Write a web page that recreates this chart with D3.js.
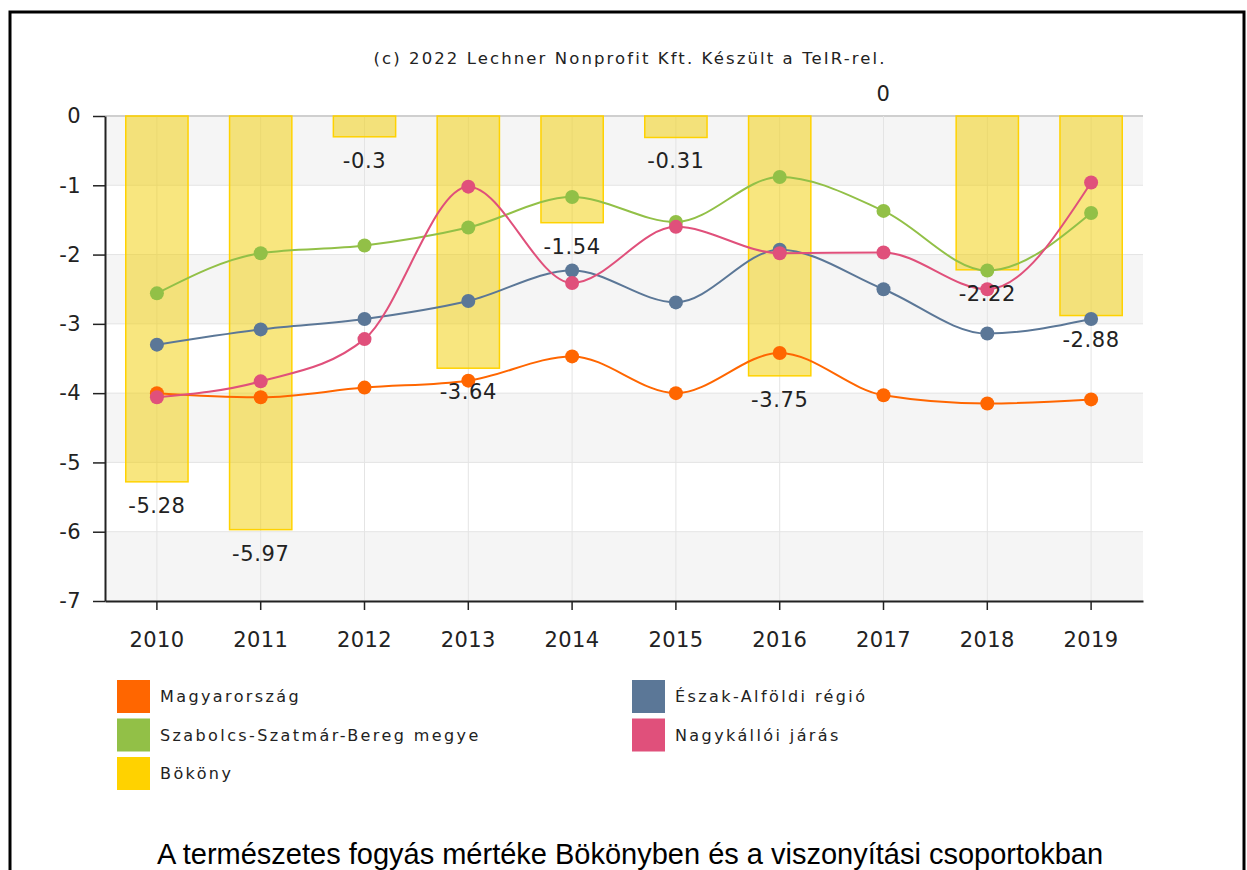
<!DOCTYPE html>
<html>
<head>
<meta charset="utf-8">
<script src="https://cdn.jsdelivr.net/npm/d3@7"></script>
<style>
  body { margin: 0; background: #fff; }
  svg { display: block; }
</style>
</head>
<body>
<div id="chart"></div>
<script>
// years on the x axis
const years = ['2010', '2011', '2012', '2013', '2014', '2015', '2016', '2017', '2018', '2019'];

// line series
const magyarorszag = [-4.0, -4.06, -3.92, -3.82, -3.47, -4.0, -3.42, -4.03, -4.15, -4.09];
const eszakAlfold = [-3.30, -3.08, -2.93, -2.67, -2.23, -2.69, -1.93, -2.50, -3.14, -2.93];
const szabolcs = [-2.56, -1.98, -1.87, -1.61, -1.17, -1.53, -0.88, -1.37, -2.23, -1.40];
const nagykallo = [-4.06, -3.83, -3.22, -1.02, -2.41, -1.60, -1.98, -1.97, -2.50, -0.96];

// bar series
const bokony = [-5.28, -5.97, -0.3, -3.64, -1.54, -0.31, -3.75, 0, -2.22, -2.88];

const yTicks = [0, -1, -2, -3, -4, -5, -6, -7];

const lineSeries = [
  { name: 'Magyarország', color: '#ff6600', values: magyarorszag },
  { name: 'Észak-Alföldi régió', color: '#5b7797', values: eszakAlfold },
  { name: 'Szabolcs-Szatmár-Bereg megye', color: '#92c047', values: szabolcs },
  { name: 'Nagykállói járás', color: '#e0507b', values: nagykallo }
];

const legendItems = [
  { name: 'Magyarország', color: '#ff6600', col: 0, row: 0 },
  { name: 'Észak-Alföldi régió', color: '#5b7797', col: 1, row: 0 },
  { name: 'Szabolcs-Szatmár-Bereg megye', color: '#92c047', col: 0, row: 1 },
  { name: 'Nagykállói járás', color: '#e0507b', col: 1, row: 1 },
  { name: 'Bököny', color: '#ffd200', col: 0, row: 2 }
];

const W = 1247, H = 870;
const plotLeft = 105, plotRight = 1143, plotTop = 116, plotBottom = 601;
const labelFont = '"DejaVu Sans", Verdana, sans-serif';

const svg = d3.select('#chart').append('svg')
  .attr('width', W)
  .attr('height', H);

// outer frame
svg.append('rect')
  .attr('x', 10).attr('y', 12)
  .attr('width', 1234).attr('height', 900)
  .attr('fill', 'none')
  .attr('stroke', '#000')
  .attr('stroke-width', 3);

const x = d3.scaleBand().domain(years).range([plotLeft, plotRight]);
const y = d3.scaleLinear().domain([0, -7]).range([plotTop, plotBottom]);

// alternating background bands
svg.append('g').selectAll('rect')
  .data(yTicks.slice(0, -1).filter((d, i) => i % 2 === 0))
  .enter().append('rect')
  .attr('x', plotLeft)
  .attr('width', plotRight - plotLeft)
  .attr('y', d => y(d))
  .attr('height', d => y(d - 1) - y(d))
  .attr('fill', '#f5f5f5');

// grid
svg.append('g').selectAll('line')
  .data(yTicks)
  .enter().append('line')
  .attr('x1', plotLeft).attr('x2', plotRight)
  .attr('y1', d => y(d)).attr('y2', d => y(d))
  .attr('stroke', d => d === 0 ? '#cfcfcf' : '#e4e4e4')
  .attr('stroke-width', d => d === 0 ? 2 : 1);

svg.append('g').selectAll('line')
  .data(years)
  .enter().append('line')
  .attr('x1', d => x(d) + x.bandwidth() / 2)
  .attr('x2', d => x(d) + x.bandwidth() / 2)
  .attr('y1', plotTop).attr('y2', plotBottom)
  .attr('stroke', '#e4e4e4');

// bars
svg.append('g').selectAll('rect')
  .data(bokony)
  .enter().append('rect')
  .attr('x', (d, i) => x(years[i]) + x.bandwidth() * 0.2)
  .attr('width', x.bandwidth() * 0.6)
  .attr('y', y(0))
  .attr('height', d => y(d) - y(0))
  .attr('fill', 'rgba(242, 206, 0, 0.5)')
  .attr('stroke', '#ffd200')
  .attr('stroke-width', 1.5);

// lines and points
const line = d3.line()
  .x((d, i) => x(years[i]) + x.bandwidth() / 2)
  .y(d => y(d))
  .curve(d3.curveMonotoneX);

lineSeries.forEach(s => {
  const g = svg.append('g');
  g.append('path')
    .datum(s.values)
    .attr('d', line)
    .attr('fill', 'none')
    .attr('stroke', s.color)
    .attr('stroke-width', 2);
  g.selectAll('circle')
    .data(s.values)
    .enter().append('circle')
    .attr('cx', (d, i) => x(years[i]) + x.bandwidth() / 2)
    .attr('cy', d => y(d))
    .attr('r', 7)
    .attr('fill', s.color);
});

// axes
const yAxis = svg.append('g')
  .attr('transform', `translate(${plotLeft},0)`)
  .call(d3.axisLeft(y).tickValues(yTicks).tickSize(12).tickPadding(12).tickSizeOuter(0));
const xAxis = svg.append('g')
  .attr('transform', `translate(0,${plotBottom})`)
  .call(d3.axisBottom(x).tickSize(9).tickPadding(22).tickSizeOuter(0));

[yAxis, xAxis].forEach(a => {
  a.select('.domain').attr('stroke', '#222').attr('stroke-width', 2);
  a.selectAll('.tick line').attr('stroke', '#222').attr('stroke-width', 1.5);
  a.selectAll('.tick text')
    .attr('fill', '#222')
    .style('font-family', labelFont)
    .style('font-size', '21px')
    .style('letter-spacing', '0.4px');
});
yAxis.selectAll('.tick text').text(d => String(d));

// bar value labels
svg.append('g').selectAll('text')
  .data(bokony)
  .enter().append('text')
  .attr('x', (d, i) => x(years[i]) + x.bandwidth() / 2)
  .attr('y', d => d === 0 ? y(0) - 15 : y(d) + 31)
  .attr('text-anchor', 'middle')
  .attr('fill', '#222')
  .style('font-family', labelFont)
  .style('font-size', '21px')
  .style('letter-spacing', '0.6px')
  .text(d => String(d));

// copyright
svg.append('text')
  .attr('x', 630).attr('y', 64)
  .attr('text-anchor', 'middle')
  .attr('fill', '#222')
  .style('font-family', labelFont)
  .style('font-size', '16.5px')
  .style('letter-spacing', '2.1px')
  .text('(c) 2022 Lechner Nonprofit Kft. Készült a TeIR-rel.');

// legend
const legend = svg.append('g').selectAll('g')
  .data(legendItems)
  .enter().append('g')
  .attr('transform', d => `translate(${117 + d.col * 515},${680 + d.row * 38.5})`);
legend.append('rect')
  .attr('width', 33).attr('height', 33)
  .attr('fill', d => d.color);
legend.append('text')
  .attr('x', 43).attr('y', 22)
  .attr('fill', '#222')
  .style('font-family', labelFont)
  .style('font-size', '16px')
  .style('letter-spacing', '2.4px')
  .text(d => d.name);

// caption
svg.append('text')
  .attr('x', 630).attr('y', 864)
  .attr('text-anchor', 'middle')
  .attr('fill', '#000')
  .style('font-family', '"Liberation Sans", Arial, sans-serif')
  .style('font-size', '29px')
  .text('A természetes fogyás mértéke Bökönyben és a viszonyítási csoportokban');
</script>
</body>
</html>
